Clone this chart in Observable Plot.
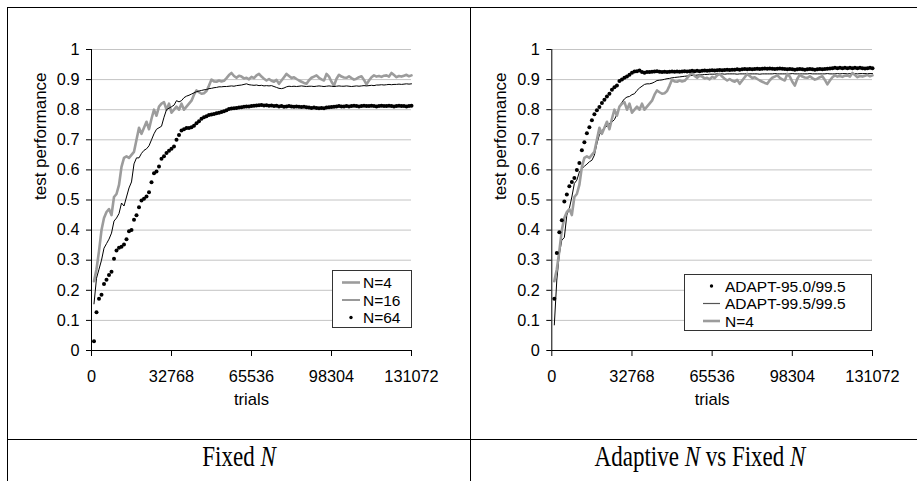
<!DOCTYPE html>
<html><head><meta charset="utf-8">
<script src="https://cdn.jsdelivr.net/npm/d3@7"></script>
<script src="https://cdn.jsdelivr.net/npm/@observablehq/plot@0.6"></script>
<style>
html,body{margin:0;padding:0;background:#fff;}
#root{position:relative;width:917px;height:481px;overflow:hidden;background:#fff;font-family:"Liberation Sans",Arial,sans-serif;}
.ln{position:absolute;background:#000;}
.panel{position:absolute;top:0;}
.legend{position:absolute;}
.caption{position:absolute;font-family:"Liberation Serif","Times New Roman",serif;font-size:23px;line-height:23px;transform:translateX(-50%) scaleY(1.3);transform-origin:50% 20px;white-space:nowrap;color:#000;}
</style></head><body><div id="root"></div>
<script>
// ---- data (test performance sampled every 1024 trials, k = 1..128) ----
const step = 1024;
const xTicks = [0, 32768, 65536, 98304, 131072];
const yTicks = [0, 0.1, 0.2, 0.3, 0.4, 0.5, 0.6, 0.7, 0.8, 0.9, 1];

const n4 = [0.23,0.27,0.33,0.40,0.44,0.46,0.47,0.45,0.51,0.52,
0.55,0.61,0.64,0.645,0.64,0.65,0.66,0.70,0.74,0.72,
0.74,0.76,0.735,0.77,0.80,0.78,0.81,0.82,0.825,0.80,
0.82,0.79,0.80,0.81,0.80,0.82,0.80,0.81,0.82,0.83,
0.85,0.864,0.858,0.853,0.855,0.862,0.88,0.90,0.894,0.893,
0.897,0.894,0.896,0.905,0.915,0.922,0.912,0.906,0.913,0.910,
0.904,0.906,0.901,0.909,0.905,0.914,0.919,0.910,0.903,0.897,
0.902,0.896,0.893,0.899,0.886,0.897,0.908,0.919,0.912,0.905,
0.908,0.902,0.897,0.893,0.889,0.886,0.898,0.906,0.910,0.914,
0.906,0.901,0.897,0.919,0.910,0.893,0.880,0.903,0.916,0.910,
0.907,0.906,0.911,0.905,0.900,0.903,0.908,0.911,0.899,0.884,
0.897,0.908,0.914,0.910,0.912,0.909,0.913,0.914,0.910,0.922,
0.915,0.908,0.912,0.910,0.913,0.916,0.911,0.914];

const n16 = [0.155,0.24,0.27,0.30,0.34,0.355,0.37,0.39,0.43,0.44,
0.455,0.49,0.48,0.51,0.54,0.56,0.62,0.64,0.64,0.655,
0.665,0.67,0.68,0.70,0.72,0.735,0.74,0.745,0.775,0.80,
0.805,0.81,0.815,0.83,0.826,0.83,0.84,0.845,0.848,0.852,
0.856,0.86,0.862,0.864,0.866,0.867,0.870,0.871,0.873,0.874,
0.876,0.876,0.877,0.877,0.878,0.879,0.878,0.880,0.881,0.882,
0.884,0.886,0.883,0.882,0.881,0.882,0.880,0.881,0.879,0.880,
0.879,0.880,0.877,0.874,0.871,0.870,0.872,0.876,0.878,0.877,
0.878,0.877,0.878,0.879,0.878,0.877,0.878,0.878,0.877,0.878,
0.879,0.878,0.877,0.878,0.879,0.878,0.877,0.878,0.879,0.878,
0.878,0.879,0.878,0.877,0.878,0.879,0.878,0.879,0.880,0.879,
0.880,0.881,0.880,0.882,0.882,0.883,0.882,0.883,0.884,0.883,
0.884,0.884,0.885,0.884,0.885,0.886,0.885,0.886];

const n64 = [0.031,0.127,0.172,0.185,0.221,0.235,0.251,0.262,0.305,0.332,
0.341,0.345,0.352,0.37,0.396,0.40,0.434,0.449,0.476,0.498,
0.504,0.512,0.526,0.559,0.589,0.595,0.611,0.637,0.645,0.656,
0.664,0.67,0.678,0.70,0.716,0.731,0.735,0.739,0.739,0.742,
0.747,0.755,0.762,0.770,0.775,0.778,0.782,0.784,0.786,0.788,
0.790,0.792,0.795,0.798,0.802,0.804,0.805,0.806,0.807,0.808,
0.810,0.811,0.811,0.812,0.813,0.814,0.815,0.816,0.814,0.815,
0.813,0.814,0.812,0.813,0.811,0.812,0.810,0.811,0.812,0.811,
0.810,0.811,0.810,0.809,0.810,0.808,0.807,0.806,0.807,0.806,
0.805,0.806,0.805,0.807,0.808,0.809,0.810,0.811,0.812,0.811,
0.811,0.812,0.811,0.812,0.813,0.812,0.811,0.812,0.813,0.812,
0.812,0.813,0.812,0.811,0.812,0.813,0.812,0.812,0.813,0.812,
0.811,0.812,0.813,0.812,0.812,0.811,0.812,0.813];

const adapt950 = [0.172,0.324,0.393,0.433,0.495,0.518,0.546,0.560,0.573,0.600,
0.623,0.665,0.692,0.722,0.742,0.765,0.785,0.798,0.809,0.822,
0.833,0.844,0.853,0.866,0.875,0.880,0.895,0.900,0.906,0.910,
0.916,0.923,0.927,0.928,0.930,0.925,0.923,0.925,0.925,0.926,
0.927,0.928,0.926,0.925,0.926,0.925,0.926,0.927,0.926,0.927,
0.926,0.927,0.928,0.927,0.928,0.929,0.928,0.929,0.928,0.929,
0.930,0.929,0.930,0.931,0.930,0.931,0.932,0.931,0.932,0.933,
0.932,0.933,0.933,0.934,0.933,0.934,0.935,0.934,0.935,0.934,
0.935,0.936,0.935,0.936,0.937,0.936,0.937,0.936,0.935,0.936,
0.937,0.936,0.935,0.934,0.935,0.934,0.933,0.934,0.935,0.934,
0.933,0.934,0.935,0.934,0.933,0.934,0.935,0.934,0.935,0.936,
0.937,0.938,0.939,0.938,0.939,0.938,0.939,0.938,0.939,0.938,
0.939,0.938,0.939,0.938,0.937,0.938,0.939,0.938];

const adapt995 = [0.085,0.234,0.32,0.367,0.375,0.45,0.472,0.51,0.555,0.566,
0.593,0.604,0.612,0.619,0.627,0.632,0.649,0.687,0.717,0.729,
0.74,0.745,0.754,0.759,0.767,0.785,0.809,0.825,0.836,0.842,
0.844,0.85,0.853,0.864,0.872,0.878,0.884,0.886,0.886,0.888,
0.892,0.897,0.898,0.899,0.901,0.903,0.904,0.906,0.907,0.908,
0.909,0.910,0.911,0.912,0.913,0.914,0.914,0.915,0.916,0.916,
0.917,0.917,0.918,0.918,0.918,0.919,0.919,0.919,0.918,0.919,
0.919,0.919,0.919,0.918,0.919,0.919,0.919,0.920,0.919,0.919,
0.919,0.919,0.918,0.919,0.919,0.919,0.919,0.919,0.920,0.919,
0.919,0.919,0.919,0.919,0.919,0.920,0.919,0.919,0.919,0.919,
0.919,0.919,0.920,0.919,0.919,0.919,0.919,0.919,0.919,0.920,
0.919,0.919,0.919,0.920,0.919,0.920,0.920,0.919,0.920,0.920,
0.920,0.919,0.920,0.920,0.920,0.920,0.920,0.920];

const leftLegend = ["N=4", "N=16", "N=64"];
const rightLegend = ["ADAPT-95.0/99.5", "ADAPT-99.5/99.5", "N=4"];
const captions = ["Fixed ", "N", "Adaptive ", "N", " vs Fixed ", "N"];

const toRows = arr => arr.map((v, i) => ({trials: (i + 1) * step, perf: v}));

const GRAY = "#9c9c9c";
const FONT = "'Liberation Sans', Arial, sans-serif";

const root = document.getElementById("root");

function panel({width, ml, mr, marks}) {
  return Plot.plot({
    width, height: 430,
    marginLeft: ml, marginRight: mr, marginTop: 49, marginBottom: 80,
    x: {domain: [0, 131072]},
    y: {domain: [0, 1]},
    style: {fontFamily: FONT, fontSize: "16px", color: "#000", background: "transparent", overflow: "visible"},
    marks: [
      Plot.ruleY(yTicks.filter(d => d > 0), {stroke: "#c4c4c4", strokeWidth: 1}),
      Plot.axisY(yTicks, {tickSize: 5, tickPadding: 7, label: null, tickFormat: d => String(d), fontSize: 16.3}),
      Plot.axisX(xTicks, {tickSize: 6, tickPadding: 14, label: null, tickFormat: d => String(d), fontSize: 16.3}),
      Plot.ruleX([0], {stroke: "#000"}),
      Plot.ruleY([0], {stroke: "#000"}),
      ...marks,
      Plot.text(["test performance"], {text: d => d, frameAnchor: "left", dx: -51, rotate: -90, fontSize: 17}),
      Plot.text(["trials"], {text: d => d, frameAnchor: "bottom", dy: 54, fontSize: 16.6})
    ]
  });
}

const left = panel({
  width: 465, ml: 91, mr: 54,
  marks: [
    Plot.line(toRows(n4), {x: "trials", y: "perf", stroke: GRAY, strokeWidth: 2.6}),
    Plot.line(toRows(n16), {x: "trials", y: "perf", stroke: "#000", strokeWidth: 1}),
    Plot.dot(toRows(n64), {x: "trials", y: "perf", r: 2, fill: "#000", stroke: "none"})
  ]
});
left.classList.add("panel"); left.style.left = "0px";
root.appendChild(left);

const right = panel({
  width: 447, ml: 81.3, mr: 45,
  marks: [
    Plot.line(toRows(adapt995), {x: "trials", y: "perf", stroke: "#000", strokeWidth: 1}),
    Plot.line(toRows(n4), {x: "trials", y: "perf", stroke: GRAY, strokeWidth: 2.6}),
    Plot.dot(toRows(adapt950), {x: "trials", y: "perf", r: 2, fill: "#000", stroke: "none"})
  ]
});
right.classList.add("panel"); right.style.left = "470px";
root.appendChild(right);

// legends
function legend({left, top, w, h, labels, kinds, rowsY, sw0, sw1, tx}) {
  const svg = d3.create("svg").attr("class", "legend").attr("width", w + 2).attr("height", h + 2)
    .style("left", (left - 1) + "px").style("top", (top - 1) + "px");
  svg.append("rect").attr("x", 1.5).attr("y", 1.5).attr("width", w - 1).attr("height", h - 1)
    .attr("fill", "#fff").attr("stroke", "#333").attr("stroke-width", 1);
  labels.forEach((lab, i) => {
    const y = rowsY[i] + 1;
    const k = kinds[i];
    if (k === "dot") {
      svg.append("circle").attr("cx", (sw0 + sw1) / 2 + 1).attr("cy", y).attr("r", 1.7).attr("fill", "#000");
    } else {
      svg.append("line").attr("x1", sw0 + 1).attr("x2", sw1 + 1).attr("y1", y).attr("y2", y)
        .attr("stroke", k === "thick" ? GRAY : "#555").attr("stroke-width", k === "thick" ? 2.6 : 1.2);
    }
    svg.append("text").attr("x", tx + 1).attr("y", y).attr("dy", "0.36em")
      .attr("font-family", FONT).attr("font-size", 15.5).attr("fill", "#000").text(lab);
  });
  root.appendChild(svg.node());
}
legend({left: 332, top: 270, w: 80, h: 58, labels: leftLegend, kinds: ["thick", "thin", "dot"],
  rowsY: [12.5, 30, 47.5], sw0: 10, sw1: 28, tx: 31});
legend({left: 684, top: 274, w: 188, h: 57, labels: rightLegend, kinds: ["dot", "thin", "thick"],
  rowsY: [12, 29.5, 47], sw0: 19, sw1: 36, tx: 41});

// table frame
function ln(x, y, w, h) {
  const d = document.createElement("div"); d.className = "ln";
  Object.assign(d.style, {left: x + "px", top: y + "px", width: w + "px", height: h + "px"});
  root.appendChild(d);
}
ln(7, 7, 910, 1);
ln(7, 7, 1, 474);
ln(470, 7, 1, 474);
ln(7, 439, 910, 1);

// captions
function caption(cx, parts) {
  const d = document.createElement("div"); d.className = "caption";
  d.style.left = cx + "px"; d.style.top = "447px";
  parts.forEach((p, i) => {
    const s = document.createElement("span"); s.textContent = p;
    if (p === "N") s.style.fontStyle = "italic";
    d.appendChild(s);
  });
  root.appendChild(d);
}
caption(239, captions.slice(0, 2));
caption(700, captions.slice(2));
</script></body></html>
